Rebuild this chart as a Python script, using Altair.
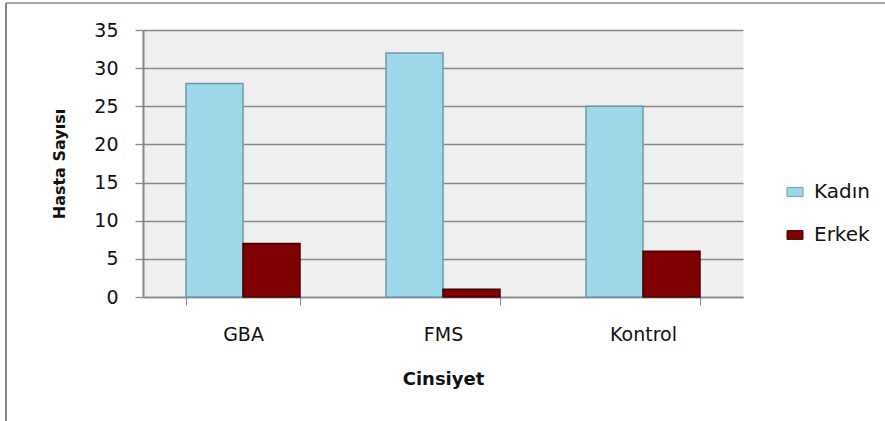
import altair as alt
import pandas as pd

groups = ["GBA", "FMS", "Kontrol"]
series = ["Kadın", "Erkek"]
kadin = [28, 32, 25]
erkek = [7, 1, 6]
y_ticks = [0, 5, 10, 15, 20, 25, 30, 35]
fill_colors = ["#9fd8ea", "#7f0000"]
stroke_colors = ["#6b9cab", "#4a0000"]

rows = []
for g, k, e in zip(groups, kadin, erkek):
    rows.append({"Grup": g, "Cinsiyet": series[0], "Hasta": k})
    rows.append({"Grup": g, "Cinsiyet": series[1], "Hasta": e})
df = pd.DataFrame(rows)

FONT = "DejaVu Sans"
GRID = "#878787"

bars = alt.Chart(df).mark_bar(strokeWidth=1.5).encode(
    x=alt.X(
        "Grup:N",
        sort=groups,
        scale=alt.Scale(paddingInner=0.43, paddingOuter=0.215),
        axis=alt.Axis(
            title="Cinsiyet",
            labelAngle=0,
            tickBand="extent",
            tickSize=8,
            tickColor=GRID,
            tickWidth=1,
            domainColor=GRID,
            domainWidth=1.5,
            labelFont=FONT,
            labelFontSize=19,
            labelColor="#111111",
            labelPadding=20,
            titleFont=FONT,
            titleFontSize=18,
            titleFontWeight="bold",
            titleColor="#111111",
            titlePadding=26,
            grid=False,
        ),
    ),
    xOffset=alt.XOffset(
        "Cinsiyet:N", sort=series, scale=alt.Scale(paddingInner=0, paddingOuter=0)
    ),
    y=alt.Y(
        "Hasta:Q",
        scale=alt.Scale(domain=[0, 35], nice=False),
        axis=alt.Axis(
            title="Hasta Sayısı",
            values=y_ticks,
            tickSize=8,
            tickColor=GRID,
            tickWidth=1.3,
            domainColor=GRID,
            domainWidth=2,
            gridColor=GRID,
            gridWidth=1.4,
            labelFont=FONT,
            labelFontSize=19,
            labelColor="#111111",
            labelPadding=17,
            titleFont=FONT,
            titleFontSize=16,
            titleFontWeight="bold",
            titleColor="#111111",
            titlePadding=26,
        ),
    ),
    color=alt.Color(
        "Cinsiyet:N",
        sort=series,
        scale=alt.Scale(domain=series, range=fill_colors),
        legend=alt.Legend(
            title=None,
            orient="none",
            legendX=642,
            legendY=152,
            symbolType="M-1,-0.55H1V0.55H-1Z",
            symbolSize=256,
            symbolStrokeWidth=1,
            labelFont=FONT,
            labelFontSize=20,
            labelColor="#111111",
            labelOffset=9,
            rowPadding=23,
        ),
    ),
    stroke=alt.Stroke(
        "Cinsiyet:N",
        sort=series,
        scale=alt.Scale(domain=series, range=stroke_colors),
        legend=None,
    ),
)

frame_df = pd.DataFrame({"k": [0]})
top_rule = alt.Chart(frame_df).mark_rule(color=GRID, strokeWidth=1.5).encode(
    x=alt.value(-137), x2=alt.value(742), y=alt.value(-27)
)
left_rule = alt.Chart(frame_df).mark_rule(color=GRID, strokeWidth=2).encode(
    x=alt.value(-137), y=alt.value(-27), y2=alt.value(391)
)

chart = (
    alt.layer(bars, top_rule, left_rule)
    .properties(
        width=600,
        height=267,
        autosize=alt.AutoSizeParams(type="none"),
        padding={"left": 143, "top": 30, "right": 142, "bottom": 124},
        background="white",
    )
    .configure_view(fill="#efefef", stroke="transparent")
)

chart.save("out.html", embed_options={"renderer": "svg", "actions": False})
